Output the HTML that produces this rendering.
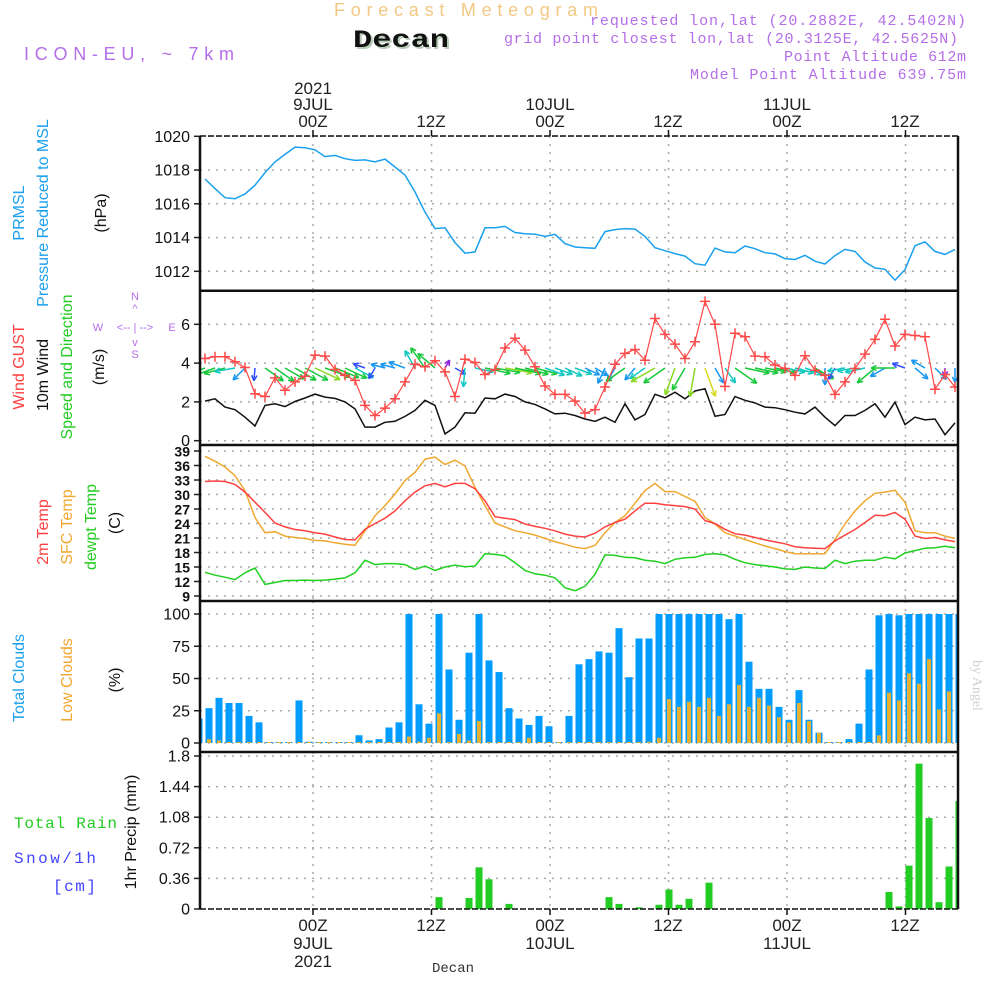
<!DOCTYPE html>
<html><head><meta charset="utf-8"><style>
html,body{margin:0;padding:0;background:#fff;}
svg{display:block;font-family:"Liberation Sans",sans-serif;}
</style></head><body>
<svg id="chart" xmlns="http://www.w3.org/2000/svg" width="1000" height="1000" viewBox="0 0 1000 1000">
<rect width="1000" height="1000" fill="#fff"/>
<g font-family="Liberation Mono, monospace">
<text x="466" y="16" text-anchor="middle" font-family="Liberation Sans, sans-serif" font-size="18" fill="#f3c884" textLength="264" lengthAdjust="spacing">Forecast Meteogram</text>
<text x="355" y="49" font-weight="bold" font-size="25" fill="#b8ccb8" textLength="96" lengthAdjust="spacingAndGlyphs">Decan</text>
<text x="353" y="47" font-weight="bold" font-size="25" fill="#111" textLength="96" lengthAdjust="spacingAndGlyphs">Decan</text>
<text x="24" y="60" font-family="Liberation Sans, sans-serif" font-size="18" fill="#b46ee8" textLength="210" lengthAdjust="spacing">ICON-EU, ~ 7km</text>
<text x="966" y="25" text-anchor="end" font-size="15" fill="#b46ee8" textLength="376" lengthAdjust="spacing">requested lon,lat (20.2882E, 42.5402N)</text>
<text x="958" y="43" text-anchor="end" font-size="15" fill="#b46ee8" textLength="454" lengthAdjust="spacing">grid point closest lon,lat (20.3125E, 42.5625N)</text>
<text x="966" y="61" text-anchor="end" font-size="15" fill="#b46ee8" textLength="182" lengthAdjust="spacing">Point Altitude 612m</text>
<text x="966" y="79" text-anchor="end" font-size="15" fill="#b46ee8" textLength="276" lengthAdjust="spacing">Model Point Altitude 639.75m</text>
</g>
<g font-size="17" fill="#222" text-anchor="middle">
<text x="313" y="94">2021</text><text x="313" y="110">9JUL</text><text x="313" y="127">00Z</text>
<text x="431" y="127">12Z</text>
<text x="550" y="110">10JUL</text><text x="550" y="127">00Z</text>
<text x="668" y="127">12Z</text>
<text x="787" y="110">11JUL</text><text x="787" y="127">00Z</text>
<text x="905" y="127">12Z</text>
</g>
<g font-size="17" fill="#222" text-anchor="middle">
<text x="313" y="931">00Z</text><text x="313" y="949">9JUL</text><text x="313" y="967">2021</text>
<text x="431" y="931">12Z</text>
<text x="550" y="931">00Z</text><text x="550" y="949">10JUL</text>
<text x="668" y="931">12Z</text>
<text x="787" y="931">00Z</text><text x="787" y="949">11JUL</text>
<text x="905" y="931">12Z</text>
<text x="453" y="972" font-family="Liberation Mono, monospace" font-size="14" fill="#333">Decan</text>
</g>
<text transform="translate(973,660) rotate(90)" font-family="Liberation Serif, serif" font-size="14" fill="#d0d0d0">by Angel</text>
<g font-size="16" text-anchor="middle">
<text transform="translate(24,213) rotate(-90)" fill="#1aa0ee">PRMSL</text>
<text transform="translate(48,213) rotate(-90)" fill="#1aa0ee">Pressure Reduced to MSL</text>
<text transform="translate(106,213) rotate(-90)" fill="#111">(hPa)</text>
<text transform="translate(24,367) rotate(-90)" fill="#ff4040">Wind GUST</text>
<text transform="translate(48,375) rotate(-90)" fill="#111">10m Wind</text>
<text transform="translate(72,367) rotate(-90)" fill="#22cc22">Speed and Direction</text>
<text transform="translate(104,367) rotate(-90)" fill="#111">(m/s)</text>
<text transform="translate(48,532) rotate(-90)" fill="#ff4040">2m Temp</text>
<text transform="translate(72,527) rotate(-90)" fill="#f0a830">SFC Temp</text>
<text transform="translate(96,527) rotate(-90)" fill="#22cc22">dewpt Temp</text>
<text transform="translate(120,523) rotate(-90)" fill="#111">(C)</text>
<text transform="translate(24,678) rotate(-90)" fill="#1aa0ee">Total Clouds</text>
<text transform="translate(72,680) rotate(-90)" fill="#f0a830">Low Clouds</text>
<text transform="translate(120,680) rotate(-90)" fill="#111">(%)</text>
<text transform="translate(136,832) rotate(-90)" fill="#111">1hr Precip (mm)</text>
<text x="14" y="828" text-anchor="start" fill="#22cc22" font-family="Liberation Mono, monospace" textLength="103" lengthAdjust="spacing">Total  Rain</text>
<text x="14" y="863" text-anchor="start" fill="#4444ff" font-family="Liberation Mono, monospace" textLength="82" lengthAdjust="spacing">Snow/1h</text>
<text x="53" y="891" text-anchor="start" fill="#4444ff" font-family="Liberation Mono, monospace" textLength="43" lengthAdjust="spacing">[cm]</text>
</g>
<g font-size="11" fill="#b46ee8" text-anchor="middle">
<text x="135" y="300">N</text><text x="135" y="312">^</text>
<text x="98" y="331">W</text><text x="135" y="331">&lt;-- | --&gt;</text><text x="172" y="331">E</text>
<text x="135" y="346">v</text><text x="135" y="358">S</text>
</g>
<g id="plots"></g>
</svg>
<script>
const hourIndex = Array.from({length:77},(_,i)=>i);
const pressure = [null,1017.47,1016.9,1016.36,1016.3,1016.58,1017.1,1017.85,1018.48,1018.93,1019.36,1019.32,1019.2,1018.8,1018.87,1018.67,1018.57,1018.6,1018.48,1018.65,1018.18,1017.7,1016.7,1015.5,1014.53,1014.58,1013.7,1013.07,1013.15,1014.58,1014.58,1014.66,1014.3,1014.23,1014.2,1014.07,1014.19,1013.64,1013.44,1013.4,1013.36,1014.35,1014.47,1014.53,1014.5,1014.07,1013.4,1013.22,1013.05,1012.9,1012.45,1012.36,1013.38,1013.15,1013.1,1013.5,1013.34,1013.1,1013.03,1012.75,1012.7,1012.95,1012.6,1012.43,1012.93,1013.3,1013.18,1012.55,1012.2,1012.12,1011.47,1012.1,1013.52,1013.74,1013.18,1013.0,1013.3];
const windGust = [null,4.24,4.33,4.33,4.07,3.77,2.42,2.28,3.24,2.6,3.03,3.32,4.41,4.36,3.67,3.37,3.11,1.82,1.3,1.68,2.16,3.03,3.94,3.81,4.12,3.55,2.28,4.2,4.03,3.41,3.67,4.78,5.28,4.67,3.81,2.82,2.39,2.39,2.04,1.42,1.6,2.77,3.94,4.5,4.7,4.15,6.3,5.48,4.98,4.24,5.1,7.18,6,2.8,5.54,5.36,4.36,4.33,3.9,3.72,3.37,4.38,3.63,3.37,2.39,3.03,3.72,4.46,5.22,6.26,4.88,5.48,5.42,5.36,2.65,3.41,2.77];
const windSpeed = [null,2.04,2.16,1.73,1.6,1.21,0.76,1.82,1.9,1.76,2.02,2.2,2.4,2.25,2.18,2,1.64,0.7,0.7,0.95,1,1.25,1.56,2.08,1.82,0.35,0.7,1.44,1.42,2.2,2.16,2.4,2.28,2,1.87,1.64,1.38,1.42,1.3,1.12,1.0,1.21,0.95,1.9,1.07,1.35,2.39,2.21,2.5,2.16,2.56,2.68,1.26,1.35,2.28,2.08,1.95,1.73,1.7,1.6,1.47,1.38,1.73,1.21,0.78,1.3,1.3,1.56,1.9,1.21,1.99,0.83,1.21,1.07,1.12,0.31,0.92];
const windDir = [null,160,160,165,170,135,95,35,35,30,30,28,25,20,22,25,28,200,120,195,195,200,240,235,220,300,30,95,12,12,10,10,12,15,15,20,20,25,20,25,30,115,120,145,130,145,150,145,110,120,100,70,60,55,35,12,12,10,12,12,15,20,30,90,120,170,170,168,140,150,180,200,40,210,45,90,90];
const temp2m = [null,32.7,32.8,32.7,32.1,30.5,28.4,26.3,24.1,23.3,22.75,22.5,22.1,21.8,21.2,20.7,20.6,22.8,24,25.1,26.6,28.7,30.5,31.8,32.3,31.6,32.3,32.3,31.2,28.7,25.4,25.1,24.8,23.9,23.4,23,22.5,21.8,21.4,21.2,22.0,23.3,24.2,24.9,26.6,28.2,28.2,27.9,27.7,27.5,27,24.6,24,22.8,21.9,21.6,21.1,20.6,20.2,19.8,19.2,19,18.9,18.8,20.4,21.6,22.75,24.2,25.7,25.6,26.3,24.9,21.4,20.9,21.1,20.6,20.25];
const tempSfc = [null,37.9,36.9,35.7,33.9,30.8,25.25,22.1,22.3,21.4,21.1,20.9,20.5,20.4,20,19.7,19.5,22.5,25.6,27.7,30.1,32.9,34.6,37.3,37.75,36.2,37.1,35.9,31.5,27.7,24.1,23.3,22.5,22.1,21.6,20.9,20.25,19.7,19.1,18.8,19.5,22.1,24.2,25.6,28.2,30.8,32.3,30.6,30.6,29.6,28.6,25.25,23.9,22.1,21.4,20.7,20,19.35,18.8,18.2,17.75,17.75,17.75,17.75,20.7,23.9,26.6,28.7,30.25,30.5,30.9,28.4,22.5,22.1,22.1,21.4,20.9];
const dewpt = [null,13.9,13.3,12.9,12.4,13.8,14.8,11.4,11.8,12.2,12.2,12.3,12.2,12.3,12.5,12.75,13.8,16.4,15.5,15.7,15.7,15.5,14.5,15.2,14.3,15,15.4,15.05,15.2,17.75,17.6,17.3,15.9,14.3,13.6,13.3,12.75,10.7,10.1,11.0,13.5,17.5,17.4,17,16.9,16.4,16.2,15.7,16.6,16.9,17,17.6,17.75,17.5,16.6,15.9,15.5,15.25,15,14.6,14.5,15,14.8,14.7,16.4,15.7,16.2,16.4,16.4,17,16.7,17.9,18.4,18.9,19,19.3,19];
const totalClouds = [19,27,35,31,31,21,16,0,0,0,33,1,0,0,0,0,6,2,3,12,16,100,30,15,100,57,18,70,100,64,55,27,19,14,21,13,0,21,61,65,71,70,89,51,81,81,100,100,100,100,100,100,100,96,100,63,42,42,28,18,41,18,8,0,0,3,15,57,99,100,99,100,100,100,100,100,100];
const lowClouds = [14,3,2,0,0,0,0,0,0,0,0,0,0,0,0,0,0,0,0,0,0,5,1,4,23,0,7,2,17,0,0,0,0,4,0,0,0,0,0,0,0,0,0,0,0.5,1,4,34,28,32,28,35,21,30,45,28,35,29,20,16,31,17,8,0,0,0,0,0,6,39,33,54,46,65,26,40,60];
const precip = [0,0,0,0,0,0,0,0,0,0,0,0,0,0,0,0,0,0,0,0,0,0,0,0,0.14,0,0,0.13,0.49,0.35,0,0.06,0,0,0,0,0,0,0,0,0,0.14,0.06,0,0.02,0,0.05,0.23,0.05,0.12,0,0.31,0,0,0,0,0,0,0,0,0,0,0,0,0,0,0,0,0,0.2,0.03,0.51,1.71,1.07,0.08,0.5,1.27];
const gridHours = [0,12,24,36,48,60];
const pTicks = [1012,1014,1016,1018,1020];
const wTicks = [0,2,4,6];
const tTicks = [9,12,15,18,21,24,27,30,33,36,39];
const cTicks = [0,25,50,75,100];
const rTicks = [0,0.36,0.72,1.08,1.44,1.8];

const X0=200, X1=958;
const xs = i => 195 + 10*i;
const xt = h => 313 + h*9.875;
const yP = v => 271.3 - (v-1012)*16.875;
const yW = v => 440.7 - v*19.4;
const yT = v => 596 - (v-9)*4.833;
const yC = v => 743 - v*1.29;
const yR = v => 909 - v*85;
const panels = [
 {name:'pressure', top:136, bot:290.7, ticks:pTicks, y:yP, fmt:v=>String(v)},
 {name:'wind', top:290.7, bot:445, ticks:wTicks, y:yW, fmt:v=>String(v)},
 {name:'temperature', top:445, bot:601, ticks:tTicks, y:yT, fmt:v=>String(v)},
 {name:'clouds', top:601, bot:752, ticks:cTicks, y:yC, fmt:v=>String(v)},
 {name:'precip', top:752, bot:909, ticks:rTicks, y:yR, fmt:v=>String(v)}
];
const NS='http://www.w3.org/2000/svg';
const root=document.getElementById('plots');
function mk(tag,attrs,parent){const e=document.createElementNS(NS,tag);for(const k in attrs)e.setAttribute(k,attrs[k]);(parent||root).appendChild(e);return e;}
const defs=mk('defs',{});
const cp=mk('clipPath',{id:'clip'},defs); mk('rect',{x:X0,y:130,width:X1-X0,height:785},cp);

panels.forEach(p=>{
  const g=mk('g',{});
  
  
  p.ticks.forEach(t=>{
    const y=p.y(t);
    const gl=mk('line',{x1:X0,x2:X1,y1:y,y2:y,stroke:'#aaa','stroke-width':1.5,'stroke-dasharray':'2,6'},g);
    
    
    mk('line',{x1:X0-6,x2:X0,y1:y,y2:y,stroke:'#222','stroke-width':1.5},g);
    const tx=mk('text',{x:190,y:y+5.5,'text-anchor':'end','font-size':p.name==='temperature'?14:16,fill:'#111','font-weight':p.name==='temperature'?'bold':'normal'},g);
    tx.textContent=p.fmt(t);
    
    
  });
  gridHours.forEach(h=>{
    const x=xt(h);
    const vl=mk('line',{x1:x,x2:x,y1:p.top,y2:p.bot,stroke:'#aaa','stroke-width':1.5,'stroke-dasharray':'2,6'},g);
    
    
  });
});

function linePath(arr,yf){let d='';arr.forEach((v,i)=>{if(v==null)return;d+=(d?'L':'M')+xs(i).toFixed(1)+','+yf(v).toFixed(1);});return d;}
const pl=mk('path',{d:linePath(pressure,yP),fill:'none',stroke:'#1aa0ee','stroke-width':1.5,'clip-path':'url(#clip)'});



const wl=mk('path',{d:linePath(windSpeed,yW),fill:'none',stroke:'#111','stroke-width':1.5,'clip-path':'url(#clip)'});



function windColor(s){if(s<0.5)return '#9020e0';if(s<0.9)return '#3050ff';if(s<1.3)return '#1898f0';if(s<1.7)return '#10c8c0';if(s<2.3)return '#18c83a';if(s<2.6)return '#88d820';return '#d8d820';}
windDir.forEach((a,i)=>{
  if(a==null)return;
  const s=windSpeed[i];
  const L=6+9*s, r=a*Math.PI/180;
  const x0=xs(i), y0=368, x1=x0+L*Math.cos(r), y1=y0+L*Math.sin(r);
  const c=windColor(s);
  const ag=mk('g',{stroke:c,'stroke-width':1.5,fill:'none','clip-path':'url(#clip)'});
  
  
  mk('line',{x1:x0,y1:y0,x2:x1,y2:y1},ag);
  [0.45,-0.45].forEach(o=>{const rr=r+Math.PI+o;mk('line',{x1:x1,y1:y1,x2:x1+6*Math.cos(rr),y2:y1+6*Math.sin(rr)},ag);});
});

const gl=mk('path',{d:linePath(windGust,yW),fill:'none',stroke:'#ff4848','stroke-width':1.2,'clip-path':'url(#clip)'});


windGust.forEach((v,i)=>{
  if(v==null)return;
  const x=xs(i),y=yW(v);
  const m=mk('path',{d:`M${x-5},${y}H${x+5}M${x},${y-5}V${y+5}`,stroke:'#ff4848','stroke-width':1.5,'clip-path':'url(#clip)'});
  
  
});

[[tempSfc,'#f0a830','sfc-temp-line'],[temp2m,'#ff4040','temp-2m-line'],[dewpt,'#20d020','dewpoint-line']].forEach(([arr,c,n])=>{
  const l=mk('path',{d:linePath(arr,yT),fill:'none',stroke:c,'stroke-width':1.5,'clip-path':'url(#clip)'});
  
  
});

totalClouds.forEach((v,i)=>{
  const cx=xs(i)+4, y=yC(v), h=Math.max(1,yC(0)-y);
  const b=mk('rect',{x:cx-3.5,y:yC(0)-h,width:7,height:h,fill:'#009cff','clip-path':'url(#clip)'});
  
  
});
lowClouds.forEach((v,i)=>{
  const cx=xs(i)+4, y=yC(v), h=Math.max(1,yC(0)-y);
  const b=mk('rect',{x:cx-2,y:yC(0)-h,width:4,height:h,fill:'#e8b030','clip-path':'url(#clip)'});
  
  
});

precip.forEach((v,i)=>{
  if(!v)return;
  const cx=xs(i)+4, y=yR(v);
  const b=mk('rect',{x:cx-3.5,y:y,width:7,height:yR(0)-y,fill:'#22cc22','clip-path':'url(#clip)'});
  
  
});

const fr=mk('g',{stroke:'#111',fill:'none'});


mk('line',{x1:X0,x2:X0,y1:136,y2:909,'stroke-width':2.5},fr);
mk('line',{x1:X1,x2:X1,y1:136,y2:909,'stroke-width':2.5},fr);
mk('line',{x1:X0,x2:X1,y1:136,y2:136,'stroke-width':1.5,'stroke-dasharray':'6,2'},fr);
mk('line',{x1:X0,x2:X1,y1:909,y2:909,'stroke-width':1.5,'stroke-dasharray':'6,2'},fr);
[290.7,445,601,752].forEach(y=>mk('line',{x1:X0,x2:X1,y1:y,y2:y,'stroke-width':2.5},fr));
gridHours.forEach(h=>{const x=xt(h);mk('line',{x1:x,x2:x,y1:130,y2:136,'stroke-width':1.5},fr);mk('line',{x1:x,x2:x,y1:909,y2:915,'stroke-width':1.5},fr);});
</script>
</body></html>
